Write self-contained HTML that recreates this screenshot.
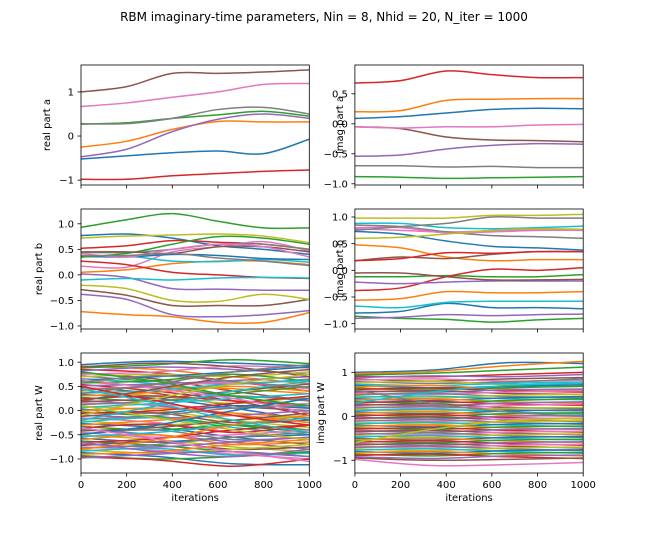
<!DOCTYPE html>
<html><head><meta charset="utf-8"><style>
body{margin:0;background:#fff}
svg{display:block;font-family:"DejaVu Sans","Liberation Sans",sans-serif}
</style></head><body>
<svg id="fig" width="648" height="540" viewBox="0 0 648 540">
<rect width="648" height="540" fill="#fff"/>
<text x="324" y="21" text-anchor="middle" font-size="12" fill="#000">RBM imaginary-time parameters, Nin = 8, Nhid = 20, N_iter = 1000</text>
</svg>
<script>
const colors=['#1f77b4','#ff7f0e','#2ca02c','#d62728','#9467bd','#8c564b','#e377c2','#7f7f7f','#bcbd22','#17becf'];
const xTicks=[0,200,400,600,800,1000];
const xs6=[0,200,400,600,800,1000];
const xs4=[0,333,667,1000];
const realA=[[-0.52,-0.45,-0.38,-0.34,-0.40,-0.07],[-0.25,-0.12,0.15,0.33,0.32,0.32],[0.27,0.30,0.40,0.48,0.56,0.45],[-0.98,-0.98,-0.90,-0.85,-0.80,-0.77],[-0.47,-0.30,0.10,0.38,0.50,0.40],[1.0,1.12,1.42,1.42,1.45,1.50],[0.67,0.75,0.88,1.0,1.17,1.19],[0.28,0.28,0.40,0.60,0.65,0.50]];
const imagA=[[0.09,0.12,0.18,0.24,0.26,0.25],[0.2,0.22,0.39,0.41,0.42,0.42],[-0.88,-0.89,-0.91,-0.90,-0.89,-0.88],[0.68,0.72,0.88,0.82,0.77,0.77],[-0.54,-0.52,-0.42,-0.36,-0.33,-0.34],[-0.05,-0.08,-0.22,-0.27,-0.28,-0.30],[-0.05,-0.07,-0.05,-0.05,-0.02,-0.01],[-0.70,-0.70,-0.72,-0.71,-0.73,-0.73]];
const realB=[[0.77,0.8,0.72,0.57,0.5,0.40],[0.05,0.1,0.22,0.27,0.27,0.2],[0.93,1.08,1.2,1.05,0.92,0.92],[0.52,0.57,0.67,0.64,0.6,0.5],[0.02,-0.05,-0.27,-0.28,-0.3,-0.3],[-0.29,-0.4,-0.6,-0.6,-0.6,-0.48],[0.17,0.15,0.45,0.55,0.65,0.47],[0.44,0.44,0.5,0.6,0.6,0.5],[0.72,0.76,0.78,0.8,0.76,0.63],[0.35,0.37,0.27,0.26,0.3,0.25],
[0.36,0.35,0.4,0.38,0.32,0.3],[-0.72,-0.78,-0.82,-0.93,-0.93,-0.74],[0.35,0.42,0.6,0.75,0.72,0.6],[0.27,0.2,0.05,0.0,-0.05,-0.07],[-0.38,-0.48,-0.78,-0.82,-0.78,-0.7],[0.45,0.45,0.42,0.55,0.55,0.45],[0.42,0.35,0.5,0.6,0.55,0.35],[0.38,0.38,0.42,0.33,0.27,0.18],[-0.2,-0.27,-0.5,-0.52,-0.38,-0.48],[-0.1,-0.07,-0.1,-0.06,-0.05,-0.06]];
const imagB=[[0.73,0.68,0.55,0.45,0.42,0.38],[0.48,0.42,0.25,0.18,0.2,0.2],[-0.12,-0.12,-0.1,-0.12,-0.12,-0.08],[-0.38,-0.33,-0.12,0.02,0.0,0.05],[-0.22,-0.25,-0.22,-0.2,-0.2,-0.2],[0.18,0.25,0.22,0.3,0.35,0.35],[0.78,0.75,0.72,0.74,0.76,0.77],[0.85,0.82,0.72,0.65,0.63,0.6],[0.98,0.98,0.98,1.03,1.03,1.05],[0.88,0.88,0.8,0.78,0.8,0.83],
[-0.8,-0.77,-0.62,-0.7,-0.7,-0.72],[-0.56,-0.53,-0.4,-0.42,-0.42,-0.4],[-0.86,-0.9,-0.92,-0.97,-0.93,-0.9],[0.18,0.22,0.33,0.32,0.35,0.35],[-0.9,-0.88,-0.83,-0.85,-0.83,-0.82],[-0.05,-0.05,-0.12,-0.18,-0.18,-0.17],[0.8,0.8,0.7,0.72,0.75,0.75],[0.75,0.82,0.88,1.0,0.98,0.98],[0.6,0.62,0.68,0.75,0.78,0.77],[-0.67,-0.7,-0.6,-0.58,-0.58,-0.58]];
const realW=[[0.95,1.02,0.98,0.92],[0.92,0.85,0.70,0.55],[0.88,0.95,1.05,0.97],[0.85,0.78,0.60,0.40],[0.82,0.90,0.85,0.75],[0.78,0.65,0.40,0.20],[0.75,0.80,0.92,0.88],[0.72,0.60,0.55,0.65],[0.70,0.75,0.70,0.80],[0.66,0.55,0.30,0.05],
[0.63,0.70,0.80,0.90],[0.60,0.50,0.45,0.35],[0.57,0.62,0.75,0.60],[0.54,0.40,0.20,-0.10],[0.51,0.55,0.62,0.70],[0.48,0.35,0.10,0.00],[0.45,0.50,0.58,0.45],[0.42,0.48,0.30,0.25],[0.39,0.30,0.15,0.30],[0.36,0.42,0.55,0.62],
[0.33,0.25,0.05,-0.20],[0.30,0.38,0.50,0.40],[0.27,0.20,0.35,0.50],[0.24,0.30,0.20,0.10],[0.21,0.10,-0.10,-0.30],[0.18,0.25,0.40,0.55],[0.15,0.12,0.05,0.15],[0.12,0.20,0.30,0.20],[0.09,0.00,-0.20,-0.35],[0.06,0.15,0.25,0.35],
[0.03,-0.05,0.10,0.05],[0.00,0.05,-0.05,-0.15],[-0.03,-0.12,-0.30,-0.45],[-0.06,0.00,0.15,0.30],[-0.09,-0.15,-0.10,0.00],[-0.12,-0.05,-0.25,-0.20],[-0.15,-0.25,-0.45,-0.60],[-0.18,-0.10,0.05,0.10],[-0.21,-0.30,-0.20,-0.10],[-0.24,-0.15,-0.35,-0.50],
[-0.27,-0.35,-0.55,-0.70],[-0.30,-0.20,-0.10,-0.25],[-0.33,-0.40,-0.30,-0.40],[-0.36,-0.28,-0.45,-0.30],[-0.39,-0.50,-0.65,-0.80],[-0.42,-0.35,-0.20,-0.05],[-0.45,-0.55,-0.50,-0.40],[-0.48,-0.40,-0.60,-0.55],[-0.51,-0.60,-0.75,-0.85],[-0.54,-0.45,-0.30,-0.15],
[-0.57,-0.65,-0.55,-0.50],[-0.60,-0.50,-0.70,-0.65],[-0.63,-0.72,-0.85,-0.95],[-0.66,-0.58,-0.40,-0.30],[-0.69,-0.75,-0.65,-0.55],[-0.72,-0.65,-0.80,-0.75],[-0.75,-0.82,-0.90,-1.00],[-0.78,-0.70,-0.55,-0.45],[-0.81,-0.88,-0.80,-0.70],[-0.84,-0.78,-0.92,-0.88],
[-0.87,-0.95,-1.10,-1.12],[-0.90,-0.85,-0.70,-0.60],[-0.93,-1.00,-0.95,-0.85],[-0.96,-1.02,-1.15,-1.00],[-0.98,-0.90,-0.85,-0.95],[0.90,0.98,0.90,0.70],[0.65,0.45,0.25,-0.05],[0.35,0.55,0.80,0.95],[0.10,-0.15,-0.40,-0.60],[-0.20,0.10,0.40,0.60],
[-0.50,-0.30,0.00,0.25],[-0.80,-0.60,-0.30,-0.10],[0.80,0.60,0.30,0.10],[0.50,0.20,-0.10,-0.30],[-0.65,-0.85,-0.95,-0.80],[0.20,0.45,0.70,0.85],[-0.35,-0.60,-0.85,-1.05],[0.58,0.72,0.60,0.48],[-0.10,0.25,0.55,0.75],[0.45,0.15,-0.20,-0.45]];
const imagW=[[1.00,1.05,1.22,1.20],[0.97,1.02,1.15,1.25],[0.94,0.98,1.05,1.12],[0.91,0.90,0.95,1.00],[0.88,0.92,0.90,0.95],[0.85,0.80,0.85,0.88],[0.82,0.85,0.80,0.82],[0.79,0.75,0.78,0.85],[0.76,0.80,0.72,0.70],[0.73,0.70,0.75,0.78],
[0.70,0.65,0.68,0.72],[0.67,0.70,0.62,0.60],[0.64,0.60,0.65,0.68],[0.61,0.64,0.58,0.55],[0.58,0.55,0.60,0.62],[0.55,0.58,0.52,0.50],[0.52,0.50,0.55,0.58],[0.49,0.52,0.45,0.42],[0.46,0.42,0.48,0.50],[0.43,0.46,0.40,0.38],
[0.40,0.36,0.42,0.45],[0.37,0.40,0.33,0.30],[0.34,0.30,0.36,0.40],[0.31,0.34,0.28,0.25],[0.28,0.24,0.30,0.33],[0.25,0.28,0.20,0.18],[0.22,0.18,0.24,0.28],[0.19,0.22,0.15,0.12],[0.16,0.12,0.18,0.20],[0.13,0.16,0.10,0.05],
[0.10,0.06,0.12,0.15],[0.07,0.10,0.03,0.00],[0.04,0.00,0.06,0.08],[0.01,0.04,-0.03,-0.06],[-0.02,-0.06,0.00,0.02],[-0.05,-0.02,-0.08,-0.12],[-0.08,-0.12,-0.06,-0.04],[-0.11,-0.08,-0.14,-0.18],[-0.14,-0.18,-0.12,-0.10],[-0.17,-0.14,-0.20,-0.24],
[-0.20,-0.24,-0.18,-0.16],[-0.23,-0.20,-0.26,-0.30],[-0.26,-0.30,-0.24,-0.22],[-0.29,-0.26,-0.32,-0.36],[-0.32,-0.36,-0.30,-0.28],[-0.35,-0.32,-0.38,-0.42],[-0.38,-0.42,-0.36,-0.34],[-0.41,-0.38,-0.44,-0.48],[-0.44,-0.48,-0.42,-0.40],[-0.47,-0.44,-0.50,-0.54],
[-0.50,-0.54,-0.48,-0.46],[-0.53,-0.50,-0.56,-0.60],[-0.56,-0.60,-0.54,-0.52],[-0.59,-0.56,-0.62,-0.66],[-0.62,-0.66,-0.60,-0.58],[-0.65,-0.62,-0.68,-0.72],[-0.68,-0.72,-0.66,-0.64],[-0.71,-0.68,-0.74,-0.78],[-0.74,-0.78,-0.72,-0.70],[-0.77,-0.74,-0.80,-0.84],
[-0.80,-0.84,-0.78,-0.76],[-0.83,-0.80,-0.86,-0.90],[-0.86,-0.90,-0.84,-0.82],[-0.89,-0.86,-0.92,-0.96],[-0.92,-0.96,-0.90,-0.88],[-0.95,-1.00,-0.98,-0.95],[-0.98,-1.12,-1.10,-1.05],[0.60,0.30,0.10,0.00],[-0.60,-0.30,-0.10,-0.05],[0.30,0.55,0.70,0.75]];

const NS='http://www.w3.org/2000/svg';
const svg=document.getElementById('fig');
function mk(tag,attrs,parent){const e=document.createElementNS(NS,tag);for(const k in attrs)e.setAttribute(k,attrs[k]);(parent||svg).appendChild(e);return e;}

const panels=[
 {key:'real-a',x0:81,x1:309.3,y0:65,y1:185,ymin:-1.11,ymax:1.61,ticks:[-1,0,1],fmt:0,label:'real part a',lx:50,data:realA,xs:xs6,xl:false},
 {key:'imag-a',x0:354.9,x1:583.2,y0:65,y1:185,ymin:-1.02,ymax:0.98,ticks:[-1,-0.5,0,0.5],fmt:1,label:'imag part a',lx:343,data:imagA,xs:xs6,xl:false},
 {key:'real-b',x0:81,x1:309.3,y0:209,y1:329,ymin:-1.06,ymax:1.29,ticks:[-1,-0.5,0,0.5,1],fmt:1,label:'real part b',lx:42,data:realB,xs:xs6,xl:false},
 {key:'imag-b',x0:354.9,x1:583.2,y0:209,y1:329,ymin:-1.10,ymax:1.15,ticks:[-1,-0.5,0,0.5,1],fmt:1,label:'imag part b',lx:343,data:imagB,xs:xs6,xl:false},
 {key:'real-w',x0:81,x1:309.3,y0:353,y1:473,ymin:-1.29,ymax:1.19,ticks:[-1,-0.5,0,0.5,1],fmt:1,label:'real part W',lx:42,data:realW,xs:xs4,xl:true},
 {key:'imag-w',x0:354.9,x1:583.2,y0:353,y1:473,ymin:-1.29,ymax:1.44,ticks:[-1,0,1],fmt:0,label:'imag part W',lx:324,data:imagW,xs:xs4,xl:true}
];

function pathFor(xs,ys,sx,sy){
  const P=xs.map((x,i)=>[sx(x),sy(ys[i])]);
  let d='M'+P[0][0].toFixed(2)+','+P[0][1].toFixed(2);
  for(let i=0;i<P.length-1;i++){
    const p0=P[Math.max(0,i-1)],p1=P[i],p2=P[i+1],p3=P[Math.min(P.length-1,i+2)];
    const c1=[p1[0]+(p2[0]-p0[0])/6,p1[1]+(p2[1]-p0[1])/6];
    const c2=[p2[0]-(p3[0]-p1[0])/6,p2[1]-(p3[1]-p1[1])/6];
    d+='C'+c1[0].toFixed(2)+','+c1[1].toFixed(2)+' '+c2[0].toFixed(2)+','+c2[1].toFixed(2)+' '+p2[0].toFixed(2)+','+p2[1].toFixed(2);
  }
  return d;
}
function fmtTick(v,f){let s=v.toFixed(f);if(v<0)s='\u2212'+s.slice(1);return s;}

panels.forEach((p,pi)=>{
  const g=mk('g',{});
  
  
  const sx=x=>p.x0+(x-0)/(1000-0)*(p.x1-p.x0);
  const sy=y=>p.y1-(y-p.ymin)/(p.ymax-p.ymin)*(p.y1-p.y0);
  const cid='clip'+pi;
  const cp=mk('clipPath',{id:cid},g);
  mk('rect',{x:p.x0,y:p.y0,width:p.x1-p.x0,height:p.y1-p.y0},cp);
  const lg=mk('g',{'clip-path':'url(#'+cid+')'},g);
  p.data.forEach((ys,i)=>{
    const el=mk('path',{d:pathFor(p.xs,ys,sx,sy),fill:'none',stroke:colors[i%10],'stroke-width':1.5,'stroke-linejoin':'round','stroke-linecap':'square'},lg);
    
    
  });
  const fr=mk('rect',{x:p.x0,y:p.y0,width:p.x1-p.x0,height:p.y1-p.y0,fill:'none',stroke:'#000','stroke-width':0.8},g);
  
  
  xTicks.forEach(t=>{
    const X=sx(t);
    const tk=mk('line',{x1:X,x2:X,y1:p.y1,y2:p.y1+3.5,stroke:'#000','stroke-width':0.8},g);
    
    
    if(p.xl){
      const tl=mk('text',{x:X,y:p.y1+15,'text-anchor':'middle','font-size':10,fill:'#000'},g);
      tl.textContent=String(t);
      
      
    }
  });
  p.ticks.forEach(t=>{
    const Y=sy(t);
    const tk=mk('line',{x1:p.x0-3.5,x2:p.x0,y1:Y,y2:Y,stroke:'#000','stroke-width':0.8},g);
    
    
    const tl=mk('text',{x:p.x0-7,y:Y+3.6,'text-anchor':'end','font-size':10,fill:'#000'},g);
    tl.textContent=fmtTick(t,p.fmt);
    
    
  });
  const cy=(p.y0+p.y1)/2;
  const yl=mk('text',{x:p.lx,y:cy,'text-anchor':'middle','font-size':10,fill:'#000',transform:'rotate(-90 '+p.lx+' '+cy+')'},g);
  yl.textContent=p.label;
  
  
  if(p.xl){
    const xl=mk('text',{x:(p.x0+p.x1)/2,y:p.y1+28,'text-anchor':'middle','font-size':10,fill:'#000'},g);
    xl.textContent='iterations';
    
    
  }
});
</script>
</body></html>
